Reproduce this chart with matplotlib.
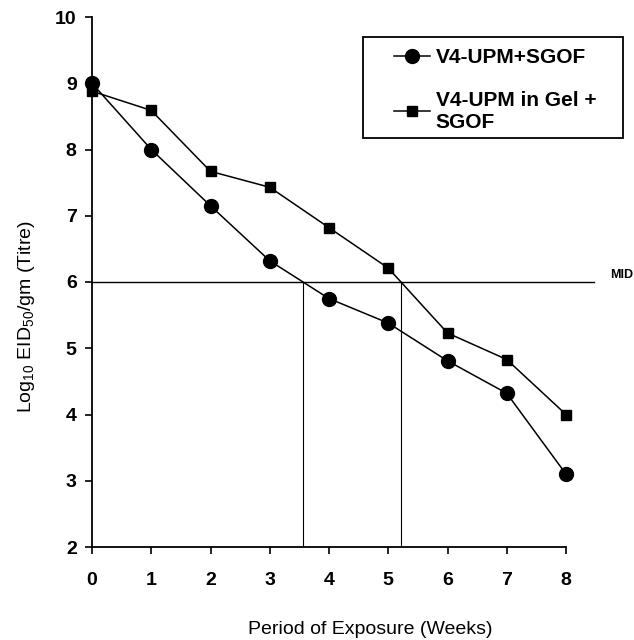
import matplotlib
matplotlib.use('Agg')
import matplotlib.pyplot as plt
from matplotlib.patches import Rectangle

plt.rcParams['font.family'] = ['Liberation Sans', 'DejaVu Sans']
plt.rcParams['mathtext.default'] = 'regular'

weeks = [0, 1, 2, 3, 4, 5, 6, 7, 8]
upm_sgof = [9.0, 8.0, 7.15, 6.32, 5.75, 5.38, 4.81, 4.32, 3.1]
upm_gel_sgof = [8.88, 8.59, 7.67, 7.43, 6.82, 6.21, 5.23, 4.83, 4.0]
series_labels = ['V4-UPM+SGOF', 'V4-UPM in Gel +\nSGOF']
mid_level = 6


def crossing(x, y, level):
    # week where the series drops through the MID level
    for i in range(len(y) - 1):
        if y[i] >= level > y[i + 1]:
            return x[i] + (y[i] - level) / (y[i] - y[i + 1]) * (x[i + 1] - x[i])
    return None


W, H = 634, 640
fig = plt.figure(figsize=(W / 100, H / 100), dpi=100)
ax = fig.add_axes([92 / W, 1 - 547 / H, (566 - 92) / W, (547 - 17) / H])

ax.plot(weeks, upm_sgof, color='black', lw=1.1, marker='o', markersize=10,
        label=series_labels[0], clip_on=False, zorder=4)
ax.plot(weeks, upm_gel_sgof, color='black', lw=1.1, marker='s', markersize=7,
        label=series_labels[1], clip_on=False, zorder=4)

# MID line and drop lines
ax.plot([0, 8.48], [mid_level, mid_level], color='black', lw=1.0, clip_on=False)
ax.text(8.74, mid_level + 0.1, 'MID', fontsize=9, fontweight='bold', va='center', ha='left')
for ys in (upm_sgof, upm_gel_sgof):
    xc = crossing(weeks, ys, mid_level)
    ax.plot([xc, xc], [2, mid_level], color='black', lw=0.8)

ax.set_xlim(0, 8)
ax.set_ylim(2, 10)
ax.set_xticks(weeks)
ax.set_yticks(range(2, 11))
for s in ['top', 'right']:
    ax.spines[s].set_visible(False)
for s in ['left', 'bottom']:
    ax.spines[s].set_linewidth(1.3)
ax.tick_params(axis='y', direction='out', length=5, width=1.2, labelsize=14, pad=6)
ax.tick_params(axis='x', direction='out', length=5, width=1.2, labelsize=14, pad=13)
for lab in ax.get_xticklabels() + ax.get_yticklabels():
    lab.set_fontweight('bold')

fig.text(370 / W, 1 - 630 / H, 'Period of Exposure (Weeks)', fontsize=14,
         ha='center', va='center')
fig.text(27 / W, 1 - 317 / H, r'Log$_{10}$ EID$_{50}$/gm (Titre)', fontsize=14,
         rotation=90, ha='center', va='center')

# legend box drawn separately, entries placed inside it
fig.patches.append(Rectangle((363 / W, 1 - 138 / H), (623 - 363) / W, (138 - 37) / H,
                             transform=fig.transFigure, fill=False,
                             edgecolor='black', lw=1.3))
ax.legend(loc='upper left', bbox_to_anchor=(394 / W, 1 - 48 / H),
          bbox_transform=fig.transFigure, frameon=False, borderpad=0,
          borderaxespad=0, handlelength=1.75, handletextpad=0.25,
          prop={'weight': 'bold', 'size': 15}, labelspacing=1.13)

plt.savefig('out.png', dpi=100)
plt.close(fig)
